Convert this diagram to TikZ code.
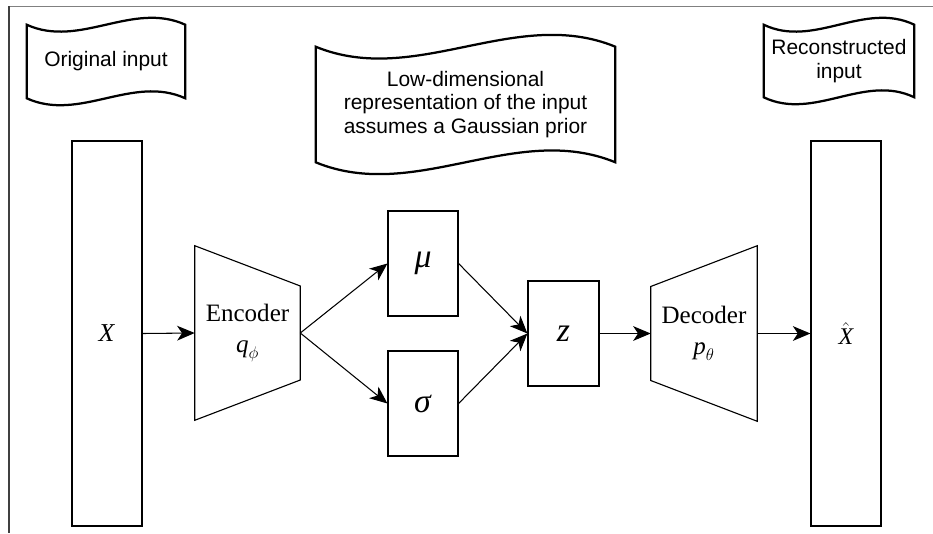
\documentclass[tikz,border=0pt]{standalone}
\usepackage{amsmath}
\usepackage{fontspec}
\setmainfont{Liberation Serif}
\setsansfont{Liberation Sans}
\usetikzlibrary{arrows.meta,calc}
\tikzset{
  layerbox/.style={draw,line width=0.8pt,inner sep=0pt,minimum width=1.75cm},
  trapbox/.style={inner sep=0pt,minimum width=2.625cm,minimum height=4.35cm,align=center,font=\fontsize{17.8}{22}\selectfont},
  banner/.style={inner sep=0pt,align=center,font=\sffamily\fontsize{14.9}{16.7}\selectfont},
  bannerline/.style={line width=1.6pt,line join=miter},
  flow/.style={line width=0.75pt,-{Stealth[length=12.5pt,width=10.5pt,inset=3.5pt]}},
}
\newcommand{\kvar}[1]{\textit{#1}}
\begin{document}
\begin{tikzpicture}[x=0.025cm,y=-0.025cm]
\useasboundingbox (0,0) rectangle (933,533);
\pgfmathsetmacro{\kedge}{47}
% frame
\draw[gray,line width=0.7pt](9,6)--(933,6);
\draw[black!75,line width=0.8pt](9,6)--(9,533);
% banners
\node[banner,minimum width=3.95cm,minimum height=1.825cm](orig) at (106,61.5){Original input};
\node[banner,minimum width=7.475cm,minimum height=2.875cm](latent) at (465.5,104.5){Low-dimensional\\representation of the input\\assumes a Gaussian prior};
\node[banner,minimum width=3.75cm,minimum height=1.8cm](recon) at (839,61){Reconstructed\\input};
\foreach \bn/\amp in {orig/24,latent/41,recon/24}{
  \draw[bannerline](\bn.north west)..controls($(\bn.north west)!1/3!(\bn.north east)+(0,\amp)$)and($(\bn.north west)!2/3!(\bn.north east)+(0,-\amp)$)..(\bn.north east)--(\bn.south east)..controls($(\bn.south west)!2/3!(\bn.south east)+(0,-\amp)$)and($(\bn.south west)!1/3!(\bn.south east)+(0,\amp)$)..(\bn.south west)--cycle;
}
% layers
\node[layerbox,minimum height=9.625cm](X) at (107,333.5){\fontsize{18.3}{20}\selectfont\kvar{X}};
\node[layerbox,minimum height=9.625cm](Xhat) at (846,333.5){\fontsize{17}{19}\selectfont$\hat{\kvar{X}}$};
\node[layerbox,minimum height=2.625cm](mu) at (423,263.5){\fontsize{24}{26}\selectfont\kvar{μ}};
\node[layerbox,minimum height=2.625cm](sigma) at (423,403.5){\fontsize{24}{26}\selectfont\kvar{σ}};
\node[layerbox,minimum width=1.775cm,minimum height=2.625cm](z) at (563.5,333.5){\fontsize{24}{26}\selectfont\kvar{z}};
\node[trapbox](enc) at (247.5,333){Encoder\\$\kvar{q}_{\phi}$};
\node[trapbox,minimum width=2.65cm,minimum height=4.375cm](dec) at (704,333.5){Decoder\\$\kvar{p}_{\theta}$};
\draw[line width=0.8pt](enc.north west)--($(enc.east)+(0,-\kedge)$)--($(enc.east)+(0,\kedge)$)--(enc.south west)--cycle;
\draw[line width=0.8pt]($(dec.west)+(0,-\kedge)$)--(dec.north east)--(dec.south east)--($(dec.west)+(0,\kedge)$)--cycle;
% connectors
\foreach \ka/\kb in {X/enc,enc/mu,enc/sigma,mu/z,sigma/z,z/dec,dec/Xhat}{\draw[flow](\ka.east)--(\kb.west);}
\end{tikzpicture}
\end{document}
